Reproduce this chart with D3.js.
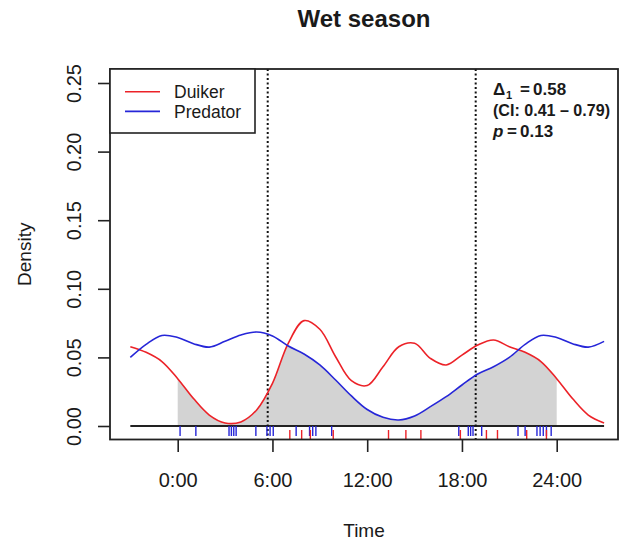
<!DOCTYPE html>
<html>
<head>
<meta charset="utf-8">
<script src="https://cdn.jsdelivr.net/npm/d3@7"></script>
<style>
  body { margin: 0; background: #fff; }
  svg { display: block; }
  svg text { font-family: "Liberation Sans", Arimo, "DejaVu Sans", sans-serif; fill: #1a1a1a; }
</style>
</head>
<body>
<svg id="chart" width="623" height="545"></svg>
<script>
// Hour of day at which each density value was taken (the plot wraps 3 h past each end)
const hours = [-3, -2, -1, 0, 1, 2, 3, 4, 5, 6, 7, 8, 9, 10, 11, 12, 13, 14, 15,
               16, 17, 18, 19, 20, 21, 22, 23, 24, 25, 26, 27];

// Kernel density of activity, wet season
const duikerDensity = [0.0578, 0.0537, 0.0470, 0.0345, 0.0200, 0.0080, 0.0022, 0.0030,
                       0.0117, 0.0311, 0.0603, 0.0768, 0.0705, 0.0505, 0.0330, 0.0295,
                       0.0432, 0.0578, 0.0603, 0.0493, 0.0445, 0.0517, 0.0590, 0.0627,
                       0.0578, 0.0537, 0.0470, 0.0345, 0.0200, 0.0080, 0.0022];
const predatorDensity = [0.0500, 0.0595, 0.0660, 0.0645, 0.0600, 0.0575, 0.0617, 0.0663,
                         0.0685, 0.0656, 0.0583, 0.0525, 0.0445, 0.0335, 0.0219, 0.0120,
                         0.0063, 0.0044, 0.0073, 0.0141, 0.0214, 0.0299, 0.0379, 0.0432,
                         0.0500, 0.0595, 0.0660, 0.0645, 0.0600, 0.0575, 0.0617];

// Individual detection times (hours), shown as rug ticks
const duikerRecords = [7.1, 7.85, 8.4, 9.85, 13.35, 14.45, 15.4, 17.9, 19.55, 20.25, 22.1, 23.35];
const predatorRecords = [0.15, 1.15, 3.25, 3.4, 3.55, 3.7, 4.95, 5.65, 5.85, 6.05, 7.5, 8.35,
                         8.55, 8.75, 9.75, 17.8, 18.4, 18.55, 18.7, 19.25, 21.55, 22.0,
                         22.75, 22.95, 23.15, 23.35, 23.65];

// Mean sunrise / sunset
const twilight = [5.7, 18.87];

const xTicks = [0, 6, 12, 18, 24];
const xTickLabels = ["0:00", "6:00", "12:00", "18:00", "24:00"];
const yTicks = [0, 0.05, 0.10, 0.15, 0.20, 0.25];

const seriesNames = ["Duiker", "Predator"];
const seriesColors = ["#ec2228", "#2626d8"];

const title = "Wet season";
const xTitle = "Time";
const yTitle = "Density";

// overlap coefficient with its confidence interval and test result
const overlapEstimate = "0.58";
const overlapCI = ["0.41", "0.79"];
const pValue = "0.13";

// ---- layout ----
const frame = { left: 110, right: 618, top: 69, bottom: 439.5 };

const svg = d3.select("#chart");
svg.append("rect").attr("width", 623).attr("height", 545).attr("fill", "#fff");

const x = d3.scaleLinear().domain([0, 24]).range([177.7, 556.7]);
const y = d3.scaleLinear().domain([0, 0.25]).range([426, 83]);

const pts = (vals) => hours.map((h, i) => [h, vals[i]]);
const curve = d3.curveCatmullRom.alpha(0.5);
const line = d3.line().x(d => x(d[0])).y(d => y(d[1])).curve(curve);
const area = d3.area().x(d => x(d[0])).y0(y(0)).y1(d => y(d[1])).curve(curve);

const defs = svg.append("defs");
defs.append("clipPath").attr("id", "clip-day")
  .append("rect")
  .attr("x", x(0)).attr("y", frame.top)
  .attr("width", x(24) - x(0)).attr("height", y(0) - frame.top);
defs.append("clipPath").attr("id", "clip-pred")
  .append("path").attr("d", area(pts(predatorDensity)));

// overlap region: area under both curves within one day
svg.append("g").attr("clip-path", "url(#clip-day)")
  .append("g").attr("clip-path", "url(#clip-pred)")
  .append("path")
  .attr("d", area(pts(duikerDensity)))
  .attr("fill", "#d3d3d3");

// zero line across the plotted span
svg.append("line")
  .attr("x1", x(hours[0])).attr("x2", x(hours[hours.length - 1]))
  .attr("y1", y(0)).attr("y2", y(0))
  .attr("stroke", "#222").attr("stroke-width", 2);

// sunrise / sunset
svg.selectAll(".twilight").data(twilight).enter().append("line")
  .attr("x1", d => x(d)).attr("x2", d => x(d))
  .attr("y1", frame.top).attr("y2", frame.bottom)
  .attr("stroke", "#111").attr("stroke-width", 2)
  .attr("stroke-dasharray", "2,2.5");

// density curves
[duikerDensity, predatorDensity].forEach((vals, i) => {
  svg.append("path")
    .attr("d", line(pts(vals)))
    .attr("fill", "none")
    .attr("stroke", seriesColors[i])
    .attr("stroke-width", 1.6);
});

// rug: predator hangs below the zero line, duiker rises from the axis
svg.selectAll(".rug-pred").data(predatorRecords).enter().append("line")
  .attr("x1", d => x(d)).attr("x2", d => x(d))
  .attr("y1", y(0)).attr("y2", y(0) + 10)
  .attr("stroke", seriesColors[1]).attr("stroke-width", 1.4);
svg.selectAll(".rug-duik").data(duikerRecords).enter().append("line")
  .attr("x1", d => x(d)).attr("x2", d => x(d))
  .attr("y1", frame.bottom).attr("y2", frame.bottom - 9.5)
  .attr("stroke", seriesColors[0]).attr("stroke-width", 1.4);

// axes
const xAxis = svg.append("g")
  .attr("transform", `translate(0,${frame.bottom})`)
  .call(d3.axisBottom(x).tickValues(xTicks)
    .tickFormat((d, i) => xTickLabels[i]).tickSize(12.5).tickSizeOuter(0))
  .attr("font-family", null).attr("font-size", null);
xAxis.select(".domain").remove();
xAxis.selectAll("line").attr("stroke", "#222").attr("stroke-width", 1.6);
xAxis.selectAll("text")
  .attr("y", 47.5).attr("dy", 0).attr("fill", null)
  .style("font-size", "20px");

const yAxis = svg.append("g")
  .attr("transform", `translate(${frame.left},0)`)
  .call(d3.axisLeft(y).tickValues(yTicks)
    .tickFormat(d3.format(".2f")).tickSize(12).tickSizeOuter(0))
  .attr("font-family", null).attr("font-size", null);
yAxis.select(".domain").remove();
yAxis.selectAll("line").attr("stroke", "#222").attr("stroke-width", 1.6);
yAxis.selectAll("text")
  .attr("transform", "rotate(-90)")
  .attr("x", 0).attr("y", -29).attr("dy", 0).attr("fill", null)
  .attr("text-anchor", "middle")
  .style("font-size", "20px");

// plot frame
svg.append("rect")
  .attr("x", frame.left).attr("y", frame.top)
  .attr("width", frame.right - frame.left).attr("height", frame.bottom - frame.top)
  .attr("fill", "none").attr("stroke", "#222").attr("stroke-width", 1.8);

// titles
svg.append("text")
  .attr("x", (frame.left + frame.right) / 2).attr("y", 27)
  .attr("text-anchor", "middle")
  .style("font-size", "24px").style("font-weight", "bold")
  .text(title);
svg.append("text")
  .attr("x", (frame.left + frame.right) / 2).attr("y", 537)
  .attr("text-anchor", "middle")
  .style("font-size", "19px")
  .text(xTitle);
svg.append("text")
  .attr("transform", `translate(31,${(frame.top + frame.bottom) / 2}) rotate(-90)`)
  .attr("text-anchor", "middle")
  .style("font-size", "19px")
  .text(yTitle);

// legend
const legend = svg.append("g");
legend.append("rect")
  .attr("x", frame.left).attr("y", frame.top)
  .attr("width", 145).attr("height", 64)
  .attr("fill", "#fff").attr("stroke", "#222").attr("stroke-width", 1.6);
seriesNames.forEach((name, i) => {
  const ly = 91.8 + i * 19.6;
  legend.append("line")
    .attr("x1", 125).attr("x2", 160).attr("y1", ly).attr("y2", ly)
    .attr("stroke", seriesColors[i]).attr("stroke-width", 1.6);
  legend.append("text")
    .attr("x", 174).attr("y", ly + 6.3)
    .style("font-size", "17.5px")
    .text(name);
});

// overlap statistics
const stats = svg.append("g").style("font-size", "17px").style("font-weight", "bold");
const l1 = stats.append("text").attr("y", 95);
l1.append("tspan").attr("x", 493).text("Δ");
l1.append("tspan").attr("x", 506).attr("dy", 4).style("font-size", "11px").text("1");
l1.append("tspan").attr("x", 520).attr("dy", -4).text("=");
l1.append("tspan").attr("x", 533).text(overlapEstimate);
stats.append("text").attr("x", 493).attr("y", 115.5)
  .attr("textLength", 117).attr("lengthAdjust", "spacingAndGlyphs")
  .text(`(CI: ${overlapCI[0]} – ${overlapCI[1]})`);
const l3 = stats.append("text").attr("y", 137);
l3.append("tspan").attr("x", 493).style("font-style", "italic").text("p");
l3.append("tspan").attr("x", 507).text("=");
l3.append("tspan").attr("x", 520).text(pValue);
</script>
</body>
</html>
